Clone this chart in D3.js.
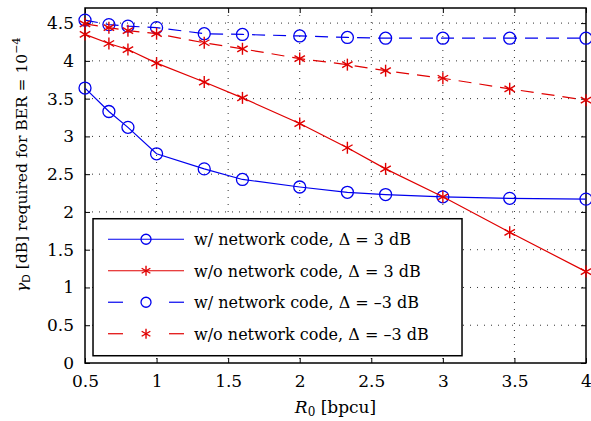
<!DOCTYPE html>
<html>
<head>
<meta charset="utf-8">
<script src="https://cdn.jsdelivr.net/npm/d3@7"></script>
<style>
  body { margin: 0; background: #fff; }
  svg text { font-family: "DejaVu Serif", serif; fill: #000; }
</style>
</head>
<body>
<div id="chart"></div>
<script>
// R0 [bpcu] sample points
var rates = [0.5, 0.667, 0.8, 1.0, 1.333, 1.6, 2.0, 2.333, 2.6, 3.0, 3.467, 4.0];

var ncPos  = [3.64, 3.33, 3.12, 2.77, 2.57, 2.43, 2.33, 2.26, 2.23, 2.20, 2.18, 2.17];
var noPos  = [4.35, 4.23, 4.15, 3.97, 3.72, 3.51, 3.17, 2.85, 2.57, 2.20, 1.73, 1.21];
var ncNeg  = [4.54, 4.48, 4.46, 4.44, 4.36, 4.35, 4.33, 4.31, 4.30, 4.30, 4.30, 4.30];
var noNeg  = [4.49, 4.44, 4.40, 4.36, 4.24, 4.16, 4.03, 3.95, 3.87, 3.77, 3.63, 3.48];

var xTicks = [0.5, 1, 1.5, 2, 2.5, 3, 3.5, 4];
var yTicks = [0, 0.5, 1, 1.5, 2, 2.5, 3, 3.5, 4, 4.5];

var series = [
  {vals: ncPos, color: "#0000ee", marker: "circle", dash: null,   label: "w/ network code, Δ = 3 dB"},
  {vals: noPos, color: "#e00000", marker: "star",   dash: null,   label: "w/o network code, Δ = 3 dB"},
  {vals: ncNeg, color: "#0000ee", marker: "circle", dash: "13,8", label: "w/ network code, Δ = –3 dB"},
  {vals: noNeg, color: "#e00000", marker: "star",   dash: "13,8", label: "w/o network code, Δ = –3 dB"}
];

var margin = {top: 8, left: 85, bottom: 58, right: 5},
    width = 591 - margin.left - margin.right,
    height = 421 - margin.top - margin.bottom;

var svg = d3.select("#chart").append("svg")
    .attr("width", 591)
    .attr("height", 421)
    .append("g")
    .attr("transform", "translate(" + margin.left + ", " + margin.top + ")");

var x = d3.scaleLinear().domain([0.5, 4]).range([0, width]);
var y = d3.scaleLinear().domain([0, 4.7]).range([height, 0]);

// dotted grid
svg.append("g").selectAll("line").data(xTicks.slice(1, -1)).enter().append("line")
    .attr("x1", function(d){ return x(d); }).attr("x2", function(d){ return x(d); })
    .attr("y1", 0).attr("y2", height)
    .attr("stroke", "#333").attr("stroke-width", 1).attr("stroke-dasharray", "1,6");
svg.append("g").selectAll("line").data(yTicks.slice(1)).enter().append("line")
    .attr("x1", 0).attr("x2", width)
    .attr("y1", function(d){ return y(d); }).attr("y2", function(d){ return y(d); })
    .attr("stroke", "#333").attr("stroke-width", 1).attr("stroke-dasharray", "1,6");

// axes with inward ticks on all four sides
var fmt = function(d){ return d3.format("")(d); };
svg.append("g")
    .attr("transform", "translate(0, " + height + ")")
    .call(d3.axisBottom(x).tickValues(xTicks).tickSize(-5).tickPadding(12).tickFormat(fmt))
    .call(function(g){ g.select(".domain").remove(); g.selectAll("text").attr("font-size", 17); });
svg.append("g")
    .call(d3.axisTop(x).tickValues(xTicks).tickSize(-5).tickFormat(""))
    .call(function(g){ g.select(".domain").remove(); });
svg.append("g")
    .call(d3.axisLeft(y).tickValues(yTicks).tickSize(-5).tickPadding(11).tickFormat(fmt))
    .call(function(g){ g.select(".domain").remove(); g.selectAll("text").attr("font-size", 17); });
svg.append("g")
    .attr("transform", "translate(" + width + ", 0)")
    .call(d3.axisRight(y).tickValues(yTicks).tickSize(-5).tickFormat(""))
    .call(function(g){ g.select(".domain").remove(); });

svg.selectAll(".tick line").attr("stroke", "#000").attr("stroke-width", 1);

svg.append("rect")
    .attr("width", width).attr("height", height)
    .attr("fill", "none").attr("stroke", "#000").attr("stroke-width", 1.5);

function drawMarker(g, cx, cy, type, color, r){
    if (type === "circle") {
        g.append("circle").attr("cx", cx).attr("cy", cy).attr("r", r)
            .attr("fill", "none").attr("stroke", color).attr("stroke-width", 1.3);
    } else {
        var p = [[0, -1], [0, 1], [-0.87, -0.5], [0.87, 0.5], [-0.87, 0.5], [0.87, -0.5]];
        for (var i = 0; i < p.length; i += 2) {
            g.append("line")
                .attr("x1", cx + p[i][0] * r).attr("y1", cy + p[i][1] * r)
                .attr("x2", cx + p[i+1][0] * r).attr("y2", cy + p[i+1][1] * r)
                .attr("stroke", color).attr("stroke-width", 1.4);
        }
    }
}

var line = d3.line().x(function(d, i){ return x(rates[i]); }).y(function(d){ return y(d); });

series.forEach(function(s){
    var g = svg.append("g");
    g.append("path").datum(s.vals)
        .attr("d", line)
        .attr("fill", "none").attr("stroke", s.color).attr("stroke-width", 1.2)
        .attr("stroke-dasharray", s.dash);
    s.vals.forEach(function(v, i){
        drawMarker(g, x(rates[i]), y(v), s.marker, s.color, 6);
    });
});

// legend
var leg = svg.append("g").attr("transform", "translate(" + (x(0.556)) + ", " + (y(1.91)) + ")");
leg.append("rect").attr("width", 369).attr("height", 137)
    .attr("fill", "#fff").attr("stroke", "#000").attr("stroke-width", 1.5);
series.forEach(function(s, i){
    var ly = 20.5 + i * 31.5;
    var segs = s.dash ? [[15, 30], [76, 91]] : [[15, 91]];
    segs.forEach(function(sg){
        leg.append("line").attr("x1", sg[0]).attr("x2", sg[1]).attr("y1", ly).attr("y2", ly)
            .attr("stroke", s.color).attr("stroke-width", 1.2);
    });
    drawMarker(leg, 53, ly, s.marker, s.color, 5);
    leg.append("text").attr("x", 101).attr("y", ly + 6)
        .attr("font-size", 16).text(s.label);
});

// axis labels
svg.append("text")
    .attr("x", width / 2).attr("y", height + 50)
    .attr("text-anchor", "middle").attr("font-size", 17)
    .html('<tspan font-style="italic">R</tspan><tspan font-size="12" dy="3">0</tspan><tspan dy="-3"> [bpcu]</tspan>');

svg.append("text")
    .attr("transform", "translate(" + (-58) + ", " + 284 + ") rotate(-90)")
    .attr("text-anchor", "start").attr("font-size", 15.5)
    .html('<tspan font-style="italic">γ</tspan><tspan font-size="11" dy="3" style="font-family: \'DejaVu Sans\'">D</tspan><tspan dy="-3"> [dB] required for BER = 10</tspan><tspan font-size="11" dy="-7">−4</tspan>');
</script>
</body>
</html>
